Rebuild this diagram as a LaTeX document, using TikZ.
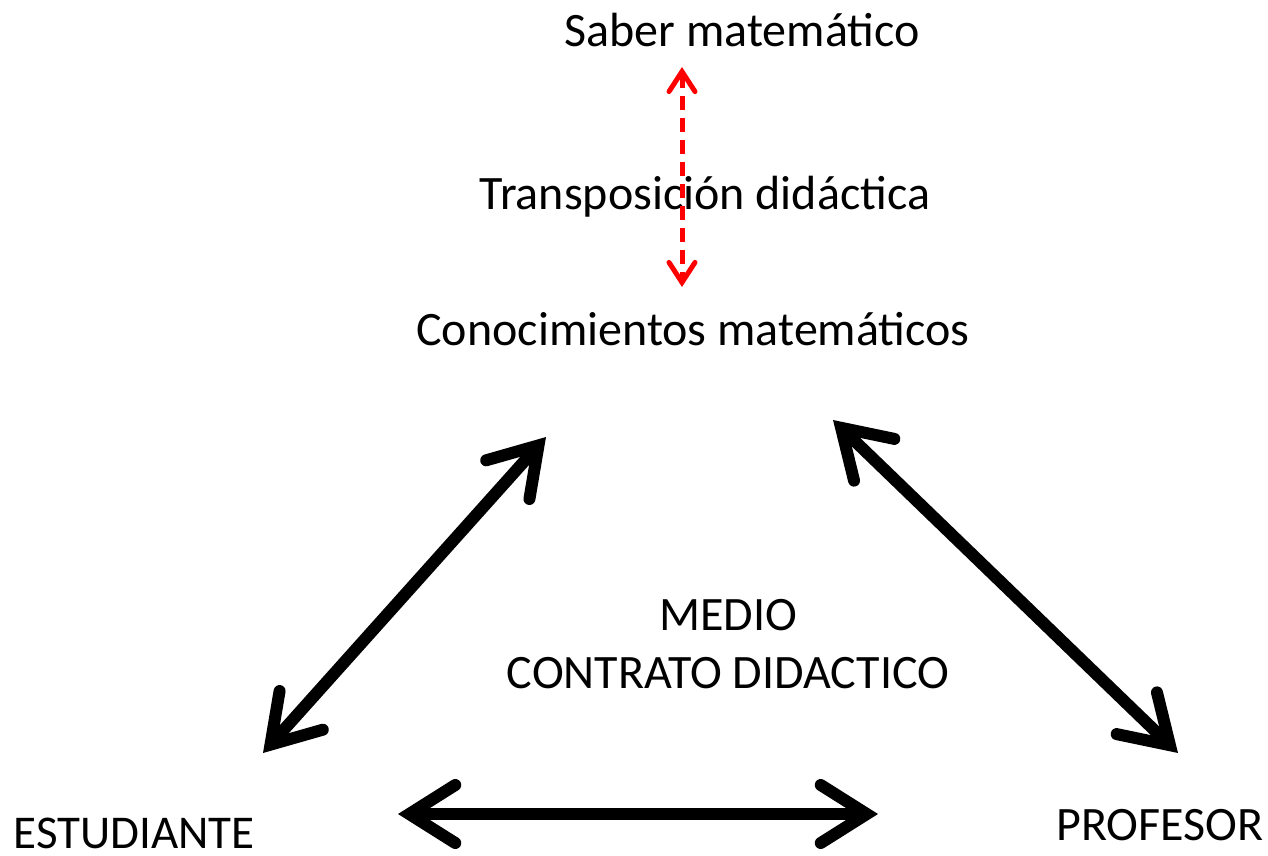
\documentclass[tikz,border=0pt]{standalone}
\usepackage{fontspec}
\setmainfont{Carlito}
\usetikzlibrary{arrows.meta}
\begin{document}
\begin{tikzpicture}[x=1pt,y=-1pt,
  lbl/.style={inner sep=0pt,font=\fontsize{48}{56}\selectfont},
  bigarrow/.style={line width=12pt,{Straight Barb[length=46pt,width=58pt,line cap=round,line join=miter]}-{Straight Barb[length=46pt,width=58pt,line cap=round,line join=miter]}},
  redarrow/.style={line width=5pt,red,dash pattern=on 14pt off 8pt,{Straight Barb[length=20pt,width=26pt,line cap=round]}-{Straight Barb[length=20pt,width=26pt,line cap=round]}}]
\useasboundingbox (0,0) rectangle (1268,856);
\node[lbl] (saber) at (742,30) {Saber matemático};
\node[lbl] (trans) at (705,197) {Transposición didáctica};
\node[lbl] (cono) at (693,329) {Conocimientos matemáticos};
\node[lbl] (medio) at (728,615) {MEDIO};
\node[lbl] (contrato) at (728,673) {CONTRATO DIDACTICO};
\node[lbl,font=\fontsize{47}{56}\selectfont] (est) at (134,833) {ESTUDIANTE};
\node[lbl] (prof) at (1160,825) {PROFESOR};
\coordinate (r1) at (682,67);
\coordinate (r2) at (682,287);
\coordinate (l1) at (263,753);
\coordinate (l2) at (546,437);
\coordinate (p1) at (833,420);
\coordinate (p2) at (1178,753);
\coordinate (h1) at (398,814);
\coordinate (h2) at (878,814);
\draw[redarrow] (r1) -- (r2);
\draw[bigarrow] (l1) -- (l2);
\draw[bigarrow] (p1) -- (p2);
\draw[bigarrow] (h1) -- (h2);
\end{tikzpicture}
\end{document}
